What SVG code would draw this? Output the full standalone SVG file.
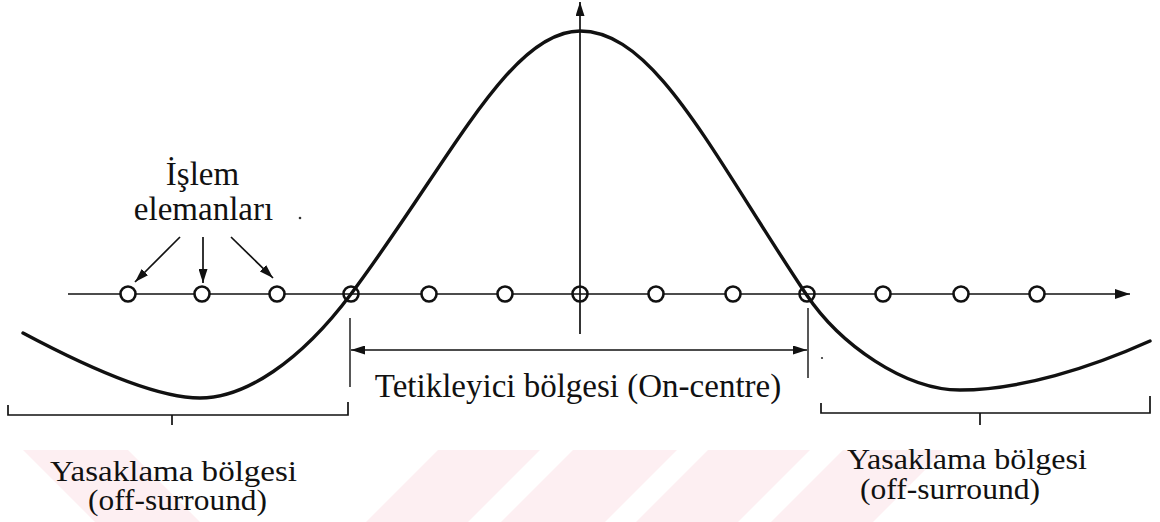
<svg xmlns="http://www.w3.org/2000/svg" width="1160" height="522" viewBox="0 0 1160 522">
  <defs>
    <style>
      .ln { stroke: #111; stroke-width: 1.7; fill: none; }
      .thin { stroke: #111; stroke-width: 1.4; fill: none; }
      .curve { stroke: #111; stroke-width: 3.4; fill: none; stroke-linecap: round; }
      .pe { stroke: #111; stroke-width: 2.6; fill: #fff; }
      .pe-x { stroke: #111; stroke-width: 2.6; fill: none; }
      .lbl { font-family: "Liberation Serif", "Times New Roman", serif; font-size: 33px; fill: #111; text-anchor: middle; }
      .lbl-s { font-family: "Liberation Serif", "Times New Roman", serif; font-size: 29px; fill: #111; text-anchor: middle; }
      .wm { fill: #fdeff2; }
    </style>
    <marker id="ah" viewBox="0 0 14 9" refX="14" refY="4.5" markerWidth="14" markerHeight="9" markerUnits="userSpaceOnUse" orient="auto-start-reverse">
      <path d="M0,0 L14,4.5 L0,9 z" fill="#111"/>
    </marker>
    <marker id="ahBig" viewBox="0 0 15 10" refX="15" refY="5" markerWidth="15" markerHeight="10" markerUnits="userSpaceOnUse" orient="auto">
      <path d="M0,0 L15,5 L0,10 z" fill="#111"/>
    </marker>
  </defs>
  <rect width="1160" height="522" fill="#fff"/>

  <g id="watermark">
    <polygon class="wm" points="23,450 128,450 200,522 95,522"/>
    <polygon class="wm" points="438,450 540,450 468,522 366,522"/>
    <polygon class="wm" points="573,450 677,450 605,522 501,522"/>
    <polygon class="wm" points="708,450 810,450 738,522 636,522"/>
    <polygon class="wm" points="843,450 945,450 873,522 771,522"/>
  </g>

  <g id="axes">
    <line class="ln" x1="68" y1="294" x2="1130" y2="294" marker-end="url(#ahBig)"/>
    <line class="ln" x1="580" y1="334" x2="580" y2="2" marker-end="url(#ah)"/>
  </g>

  <g id="response-curve">
    <path class="curve" d="M23,333 C68,357 150,398 200,398 C245,398 300,362 351,294 C451,160 510,31 580,31 C655,31 712,154 806,294 C840,345 905,390 960,390 C1020,390 1090,368 1150,341"/>
  </g>

  <g id="processing-elements">
    <circle class="pe" cx="128" cy="294" r="7.5"/>
    <circle class="pe" cx="202" cy="294" r="7.5"/>
    <circle class="pe" cx="277" cy="294" r="7.5"/>
    <circle class="pe-x" cx="351" cy="294" r="7.5"/>
    <circle class="pe" cx="429" cy="294" r="7.5"/>
    <circle class="pe" cx="505" cy="294" r="7.5"/>
    <circle class="pe-x" cx="580" cy="294" r="7.5"/>
    <circle class="pe" cx="656" cy="294" r="7.5"/>
    <circle class="pe" cx="733" cy="294" r="7.5"/>
    <circle class="pe-x" cx="807" cy="294" r="7.5"/>
    <circle class="pe" cx="883" cy="294" r="7.5"/>
    <circle class="pe" cx="961" cy="294" r="7.5"/>
    <circle class="pe" cx="1037" cy="294" r="7.5"/>
  </g>

  <g id="label-islem">
    <text class="lbl" x="202.5" y="185">İşlem</text>
    <text class="lbl" x="203.5" y="220">elemanları</text>
  </g>

  <g id="connectors">
    <line class="ln" x1="180" y1="237" x2="135" y2="282" marker-end="url(#ah)"/>
    <line class="ln" x1="203" y1="237" x2="203" y2="283" marker-end="url(#ah)"/>
    <line class="ln" x1="231" y1="237" x2="273" y2="278" marker-end="url(#ah)"/>
    <line class="ln" x1="351" y1="350" x2="807" y2="350" marker-start="url(#ah)" marker-end="url(#ah)"/>
  </g>

  <g id="on-centre-region">
    <line class="thin" x1="350" y1="318" x2="350" y2="387"/>
    <line class="thin" x1="808" y1="308" x2="808" y2="378"/>
    <text class="lbl" x="578" y="397">Tetikleyici bölgesi (On-centre)</text>
  </g>

  <g id="off-surround-left">
    <path class="ln" d="M8,405 L8,415 L348,415 L348,402 M172,415 L172,425"/>
    <text class="lbl-s" x="173.5" y="481" textLength="247" lengthAdjust="spacingAndGlyphs">Yasaklama bölgesi</text>
    <text class="lbl-s" x="177.5" y="510" textLength="179" lengthAdjust="spacingAndGlyphs">(off-surround)</text>
  </g>

  <g id="off-surround-right">
    <path class="ln" d="M821,403 L821,413 L1150,413 L1150,396 M980,413 L980,425"/>
    <text class="lbl-s" x="967" y="469" textLength="240" lengthAdjust="spacingAndGlyphs">Yasaklama bölgesi</text>
    <text class="lbl-s" x="950" y="499" textLength="180" lengthAdjust="spacingAndGlyphs">(off-surround)</text>
  </g>

  <g id="specks" fill="#333">
    <circle cx="300" cy="218" r="1.3"/>
    <circle cx="822" cy="358" r="1.1"/>
  </g>
</svg>
